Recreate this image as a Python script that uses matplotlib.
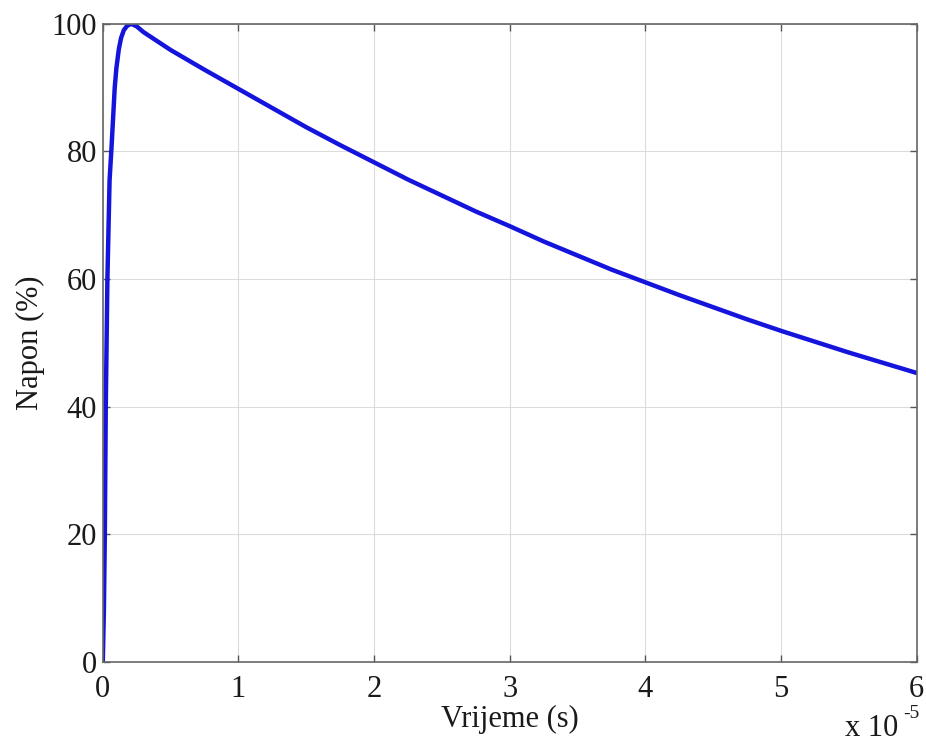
import matplotlib.pyplot as plt
import numpy as np

# time (s) and voltage (% of peak)
t_s = np.array([0, 0.008, 0.015, 0.022, 0.034, 0.05, 0.064, 0.088, 0.1, 0.118, 0.135,
                0.155, 0.18, 0.21, 0.25, 0.3, 0.4, 0.5, 0.75, 1.0, 1.25, 1.5, 1.75,
                2.0, 2.25, 2.5, 2.75, 3.0, 3.25, 3.5, 3.75, 4.0, 4.25, 4.5, 4.75,
                5.0, 5.25, 5.5, 5.75, 6.0]) * 1e-5
napon = np.array([0, 8, 20, 40, 60, 75.5, 80.5, 90, 93, 96, 97.8,
                  99, 99.7, 100, 99.6, 98.7, 97.3, 95.9, 92.8, 89.8, 86.8, 83.8, 81,
                  78.3, 75.6, 73.1, 70.6, 68.3, 65.9, 63.7, 61.5, 59.5, 57.5, 55.6, 53.7,
                  51.9, 50.2, 48.5, 46.9, 45.3])

x_ticks = [0, 1, 2, 3, 4, 5, 6]
y_ticks = [0, 20, 40, 60, 80, 100]

plt.rcParams['font.family'] = ['Liberation Serif', 'DejaVu Serif']

fig = plt.figure(figsize=(9.26, 7.44), dpi=100)
ax = fig.add_axes([0.111, 0.110, 0.879, 0.858])

ax.plot(t_s / 1e-5, napon, color='#1414dc', linewidth=3.2,
        solid_joinstyle='round', solid_capstyle='round')

ax.set_xlim(0, 6)
ax.set_ylim(0, 100)
ax.set_xticks(x_ticks)
ax.set_yticks(y_ticks)
ax.grid(True, color='#dcdcdc', linewidth=0.8)
ax.set_axisbelow(True)

ax.tick_params(direction='in', length=5, width=1, colors='#555555', labelcolor='#1a1a1a',
               labelsize=22, top=True, right=True, pad=4)
ax.tick_params(axis='x', pad=9)
for s in ax.spines.values():
    s.set_color('#666666')
    s.set_linewidth(1.2)

ax.set_xlabel('Vrijeme (s)', fontsize=22, color='#1a1a1a', labelpad=1)
ax.set_ylabel('Napon (%)', fontsize=22, color='#1a1a1a', labelpad=5)

# MATLAB style exponent label
fig.text(0.912, 0.002, 'x 10', fontsize=22, color='#1a1a1a', ha='left', va='bottom')
fig.text(0.975, 0.029, '-5', fontsize=14, color='#1a1a1a', ha='left', va='bottom')

fig.savefig('out.png', dpi=100)
